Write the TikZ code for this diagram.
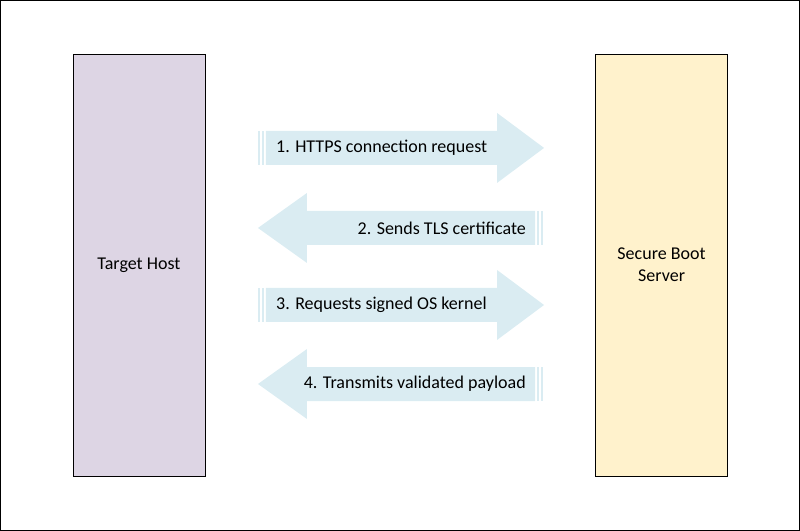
\documentclass[tikz,border=0pt]{standalone}
\usepackage{fontspec}
\setmainfont{Carlito}
\usetikzlibrary{positioning}
\definecolor{hostFill}{RGB}{221,213,228}
\definecolor{serverFill}{RGB}{255,242,204}
\definecolor{flowBlue}{RGB}{218,236,242}
\tikzset{
  box/.style={draw=black, line width=0.8pt, minimum width=132pt, minimum height=422pt, align=center, font=\fontsize{18}{22}\selectfont},
  flowtext/.style={font=\fontsize{18}{22}\selectfont, inner sep=0pt}
}
% right-pointing striped arrow: #1 = centre y
\newcommand{\flowright}[1]{
  \fill[flowBlue] (258,#1-17) rectangle (260,#1+17);
  \fill[flowBlue] (262,#1-17) rectangle (264,#1+17);
  \fill[flowBlue] (266,#1-17) -- (497,#1-17) -- (497,#1-35) -- (544,#1) -- (497,#1+35) -- (497,#1+17) -- (266,#1+17) -- cycle;
}
% left-pointing striped arrow
\newcommand{\flowleft}[1]{
  \fill[flowBlue] (541,#1-17) rectangle (543,#1+17);
  \fill[flowBlue] (537,#1-17) rectangle (539,#1+17);
  \fill[flowBlue] (535,#1-17) -- (307,#1-17) -- (307,#1-35) -- (258,#1) -- (307,#1+35) -- (307,#1+17) -- (535,#1+17) -- cycle;
}
\begin{document}
\begin{tikzpicture}[x=1pt, y=-1pt]
  \draw[line width=0.8pt] (0.5,0.5) rectangle (799.5,530.5);
  \node[box, fill=hostFill] (host) at (139,265) {Target Host};
  \node[box, fill=serverFill] (server) at (661.5,265) {Secure Boot\\Server};

  \flowright{148}
  \flowleft{228}
  \flowright{305}
  \flowleft{384}

  \node[flowtext, anchor=west] (req) at (276,148) {1. HTTPS connection request};
  \node[flowtext, anchor=east] (cert) at (526,228) {2. Sends TLS certificate};
  \node[flowtext, anchor=west] (kernel) at (276,305) {3. Requests signed OS kernel};
  \node[flowtext, anchor=east] (payload) at (526,384) {4. Transmits validated payload};
\end{tikzpicture}
\end{document}
